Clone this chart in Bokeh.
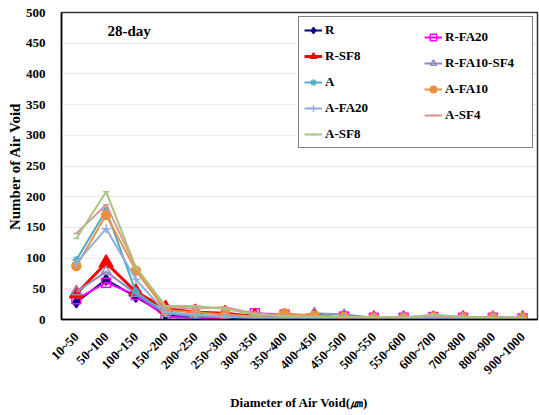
from bokeh.plotting import figure
from bokeh.models import (FactorRange, Range1d, FixedTicker, Legend, LegendItem, Label)
from bokeh.embed import file_html
from bokeh.resources import INLINE
import math

categories = ["10~50", "50~100", "100~150", "150~200", "200~250", "250~300", "300~350",
              "350~400", "400~450", "450~500", "500~550", "550~600", "600~700",
              "700~800", "800~900", "900~1000"]
y_ticks = [0, 50, 100, 150, 200, 250, 300, 350, 400, 450, 500]

R = [28, 65, 37, 8, 3, 3, 0, 3, 8, 2, 2, 1, 1, 2, 2, 0]
R_FA20 = [33, 60, 40, 5, 2, 2, 10, 8, 2, 5, 3, 3, 4, 3, 3, 2]
R_SF8 = [42, 92, 45, 18, 12, 10, 5, 4, 6, 1, 1, 1, 1, 1, 1, 1]
R_FA10_SF4 = [45, 78, 42, 10, 6, 5, 4, 3, 10, 8, 3, 3, 4, 3, 4, 3]
A = [97, 178, 45, 10, 5, 4, 3, 2, 3, 2, 2, 2, 3, 2, 2, 1]
A_FA10 = [87, 170, 80, 15, 12, 8, 5, 10, 6, 4, 3, 3, 4, 3, 3, 3]
A_FA20 = [92, 148, 65, 12, 8, 4, 3, 2, 3, 2, 2, 2, 3, 2, 2, 1]
A_SF4 = [140, 187, 85, 20, 18, 20, 10, 6, 4, 3, 3, 4, 6, 4, 3, 2]
A_SF8 = [132, 208, 85, 22, 22, 17, 8, 5, 5, 4, 4, 3, 8, 4, 3, 2]

series = [
    ("R", R, "#000080", "diamond", 11, "#000080", 2),
    ("R-FA20", R_FA20, "#FF00FF", "square", 9, None, 2),
    ("R-SF8", R_SF8, "#FF0000", "triangle", 14, "#FF0000", 3),
    ("R-FA10-SF4", R_FA10_SF4, "#8C8CC0", "triangle", 10, None, 2),
    ("A", A, "#4BACC6", "asterisk", 8, None, 2),
    ("A-FA10", A_FA10, "#E8913E", "circle", 9, "#E8913E", 2),
    ("A-FA20", A_FA20, "#92AEDB", "cross", 9, None, 2),
    ("A-SF4", A_SF4, "#D99694", "dash", 6, None, 2),
    ("A-SF8", A_SF8, "#A9C47F", "dash", 6, None, 2),
]

FONT = "Liberation Serif"

p = figure(frame_width=476, frame_height=307, x_range=FactorRange(*categories, range_padding=0),
           y_range=Range1d(0, 500), output_backend="svg", toolbar_location=None,
           min_border_left=61, min_border_right=2, min_border_top=12, min_border_bottom=70)

p.outline_line_color = "#333333"
p.outline_line_width = 1.5
p.xgrid.grid_line_color = None
p.ygrid.grid_line_color = "#D9D9D9"
p.ygrid.grid_line_dash = "2 2"

p.yaxis.ticker = FixedTicker(ticks=y_ticks)
for ax in (p.xaxis, p.yaxis):
    ax.major_tick_line_color = None
    ax.minor_tick_line_color = None
    ax.axis_line_color = "black"
    ax.axis_line_width = 1.5
    ax.major_label_text_font = FONT
    ax.major_label_text_font_style = "bold"
    ax.major_label_text_font_size = "13px"
    ax.major_label_text_color = "black"
    ax.axis_label_text_font = FONT
    ax.axis_label_text_font_style = "bold"
    ax.axis_label_text_color = "black"

p.yaxis.axis_label = "Number of Air Void"
p.yaxis.axis_label_text_font_size = "15px"
p.yaxis.major_label_standoff = 10
p.yaxis.axis_label_standoff = 0
p.xaxis.axis_label = "Diameter of Air Void(㎛)"
p.xaxis.axis_label_text_font_size = "13px"
p.xaxis.major_label_orientation = math.pi / 4
p.xaxis.major_label_standoff = 9
p.xaxis.axis_label_standoff = 10

items = []
for name, vals, color, marker, size, fill, lw in series:
    rl = p.line(categories, vals, line_color=color, line_width=lw)
    rs = p.scatter(categories, vals, marker=marker, size=size, line_color=color,
                   fill_color=fill if fill else "white", fill_alpha=1.0 if fill else 0.0,
                   line_width=1.5)
    items.append(LegendItem(label=name, renderers=[rl, rs]))

left_items = items[0::2]
right_items = items[1::2]

common = dict(label_text_font=FONT, label_text_font_style="bold", label_text_font_size="13px",
              label_text_color="black", padding=5, spacing=10, glyph_height=16, label_height=16,
              glyph_width=18, label_standoff=3, margin=0)

leg_a = Legend(items=left_items, location=(237, 171), border_line_color="black",
               border_line_width=1.5, background_fill_color="white", background_fill_alpha=1.0,
               label_width=202, **common)
leg_b = Legend(items=right_items, location=(363, 196), border_line_color=None,
               background_fill_alpha=0.0, **common)
p.add_layout(leg_a, "center")
p.add_layout(leg_b, "center")

title = Label(x=46, y=281, x_units="screen", y_units="screen", text="28-day",
              text_font=FONT, text_font_style="bold", text_font_size="15px", text_color="black")
p.add_layout(title)

open("out.html", "w").write(file_html(p, INLINE))
